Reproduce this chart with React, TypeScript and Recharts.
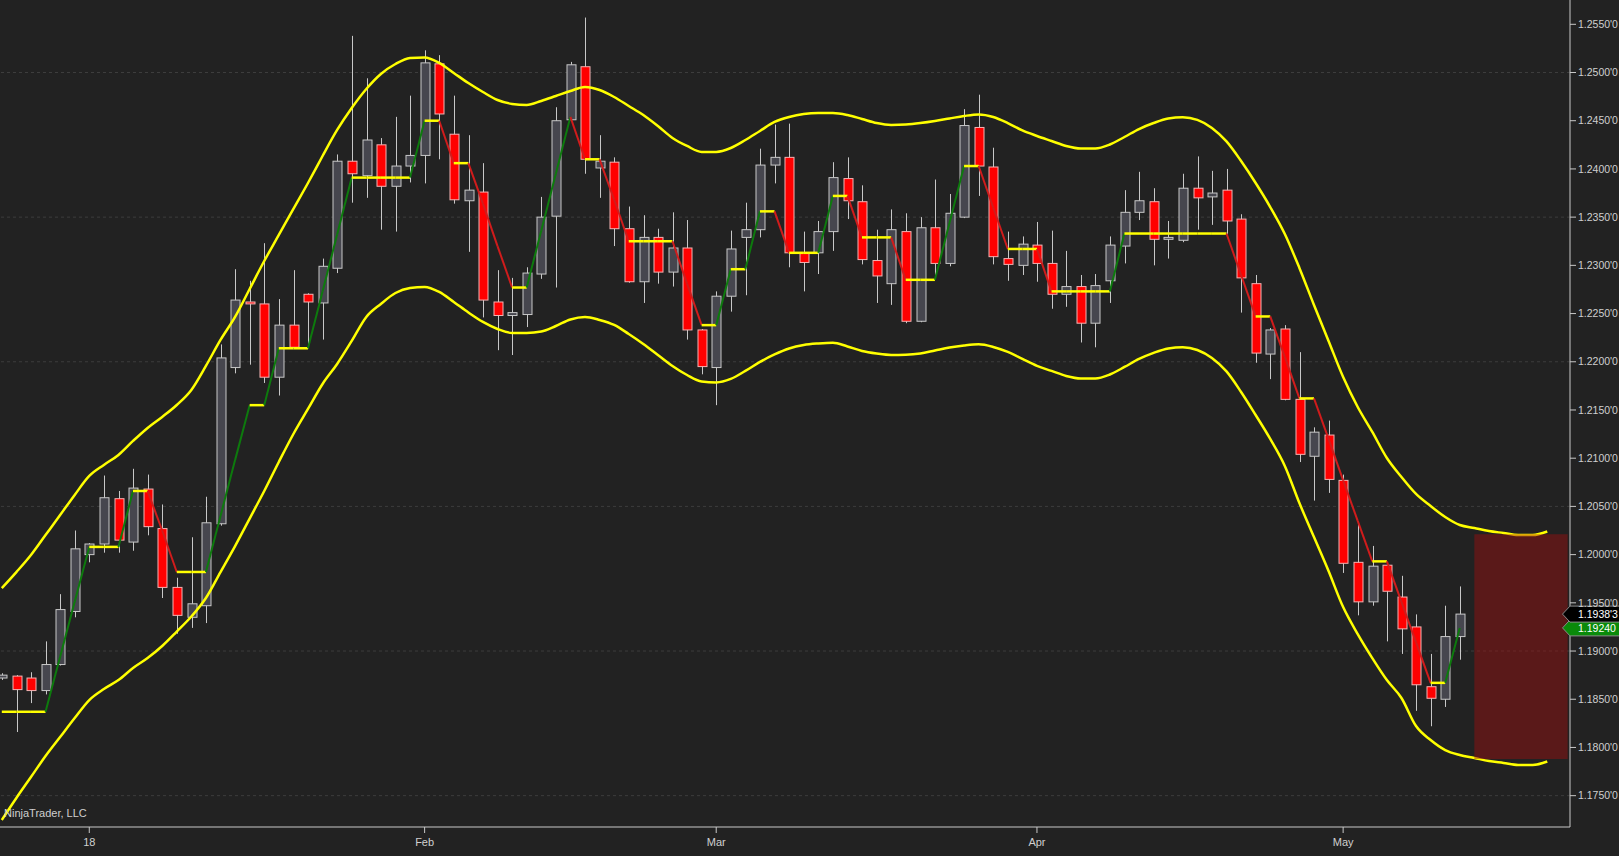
import React from 'react';
import { ComposedChart, Line, Bar, XAxis, YAxis, ReferenceLine, ReferenceArea, ReferenceDot } from 'recharts';

const opens = [1.1872,1.1874,1.1872,1.1859,1.1886,1.1941,1.2000,1.2011,1.2058,1.2013,1.2068,1.2027,1.1966,1.1935,1.1947,1.2032,1.2194,1.2262,1.2260,1.2184,1.2238,1.2270,1.2261,1.2297,1.2408,1.2393,1.2425,1.2382,1.2403,1.2414,1.2509,1.2436,1.2367,1.2376,1.2262,1.2248,1.2249,1.2291,1.2351,1.2451,1.2506,1.2401,1.2407,1.2338,1.2283,1.2329,1.2293,1.2318,1.2233,1.2194,1.2268,1.2329,1.2337,1.2404,1.2412,1.2313,1.2313,1.2335,1.2390,1.2366,1.2305,1.2281,1.2335,1.2242,1.2339,1.2302,1.2350,1.2443,1.2402,1.2307,1.2300,1.2321,1.2302,1.2270,1.2278,1.2240,1.2284,1.2320,1.2355,1.2366,1.2327,1.2326,1.2380,1.2371,1.2378,1.2348,1.2281,1.2208,1.2234,1.2161,1.2102,1.2124,1.2077,1.1992,1.1951,1.1989,1.1956,1.1925,1.1863,1.1850,1.1915];
const highs = [1.1877,1.1875,1.1878,1.1910,1.1959,1.2025,1.2012,1.2082,1.2066,1.2089,1.2083,1.2052,1.1976,1.2018,1.2060,1.2218,1.2296,1.2284,1.2323,1.2265,1.2295,1.2271,1.2307,1.2415,1.2538,1.2494,1.2432,1.2454,1.2476,1.2523,1.2518,1.2476,1.2435,1.2406,1.2295,1.2287,1.2298,1.2371,1.2464,1.2511,1.2557,1.2435,1.2412,1.2361,1.2352,1.2338,1.2355,1.2347,1.2234,1.2273,1.2336,1.2365,1.2421,1.2446,1.2447,1.2335,1.2346,1.2407,1.2412,1.2383,1.2337,1.2358,1.2354,1.2350,1.2389,1.2374,1.2462,1.2477,1.2422,1.2335,1.2330,1.2345,1.2336,1.2315,1.2290,1.2291,1.2330,1.2378,1.2397,1.2380,1.2346,1.2395,1.2413,1.2398,1.2400,1.2353,1.2290,1.2235,1.2238,1.2210,1.2132,1.2139,1.2083,1.2032,1.2009,1.1992,1.1978,1.1938,1.1897,1.1947,1.1967];
const lows = [1.1870,1.1816,1.1846,1.1855,1.1885,1.1935,1.1992,1.2002,1.2002,1.2004,1.2020,1.1955,1.1918,1.1924,1.1929,1.2030,1.2188,1.2197,1.2178,1.2165,1.2214,1.2214,1.2223,1.2292,1.2365,1.2370,1.2337,1.2335,1.2386,1.2385,1.2410,1.2364,1.2314,1.2246,1.2212,1.2207,1.2236,1.2286,1.2277,1.2450,1.2395,1.2370,1.2320,1.2282,1.2261,1.2281,1.2278,1.2223,1.2187,1.2155,1.2252,1.2269,1.2329,1.2385,1.2298,1.2273,1.2291,1.2315,1.2348,1.2301,1.2261,1.2259,1.2240,1.2241,1.2286,1.2299,1.2349,1.2372,1.2301,1.2284,1.2290,1.2283,1.2255,1.2257,1.2220,1.2215,1.2261,1.2302,1.2347,1.2300,1.2307,1.2324,1.2337,1.2342,1.2332,1.2251,1.2199,1.2182,1.2160,1.2096,1.2056,1.2064,1.1981,1.1937,1.1947,1.1910,1.1897,1.1838,1.1822,1.1842,1.1891];
const closes = [1.1875,1.1860,1.1859,1.1886,1.1943,1.2006,1.2011,1.2059,1.2015,1.2069,1.2029,1.1966,1.1937,1.1949,1.2033,1.2204,1.2264,1.2260,1.2184,1.2238,1.2215,1.2262,1.2299,1.2408,1.2395,1.2430,1.2382,1.2403,1.2414,1.2510,1.2457,1.2368,1.2378,1.2264,1.2248,1.2251,1.2292,1.2350,1.2450,1.2508,1.2410,1.2408,1.2338,1.2283,1.2329,1.2293,1.2318,1.2233,1.2195,1.2268,1.2317,1.2337,1.2404,1.2412,1.2313,1.2303,1.2335,1.2391,1.2367,1.2306,1.2289,1.2337,1.2242,1.2339,1.2302,1.2354,1.2445,1.2403,1.2309,1.2301,1.2322,1.2302,1.2270,1.2278,1.2240,1.2279,1.2321,1.2355,1.2367,1.2327,1.2329,1.2380,1.2370,1.2375,1.2346,1.2287,1.2209,1.2233,1.2161,1.2104,1.2127,1.2078,1.1991,1.1951,1.1988,1.1962,1.1923,1.1865,1.1851,1.1915,1.19383];
const stepValues = [1.1837,1.1837,1.1837,1.1837,1.1894,1.1951,1.2008,1.2008,1.2008,1.2066,1.2066,1.2025,1.1982,1.1982,1.1982,1.2040,1.2098,1.2155,1.2155,1.2214,1.2214,1.2214,1.2273,1.2332,1.2391,1.2391,1.2391,1.2391,1.2391,1.2450,1.2450,1.2406,1.2406,1.2364,1.2320,1.2277,1.2277,1.2336,1.2395,1.2454,1.2410,1.2410,1.2368,1.2325,1.2325,1.2325,1.2325,1.2281,1.2238,1.2238,1.2296,1.2296,1.2356,1.2356,1.2313,1.2313,1.2313,1.2372,1.2372,1.2329,1.2329,1.2329,1.2285,1.2285,1.2285,1.2344,1.2403,1.2403,1.2360,1.2317,1.2317,1.2317,1.2273,1.2273,1.2273,1.2273,1.2273,1.2333,1.2333,1.2333,1.2333,1.2333,1.2333,1.2333,1.2333,1.2290,1.2247,1.2247,1.2205,1.2162,1.2162,1.2120,1.2077,1.2035,1.1993,1.1993,1.1951,1.1909,1.1867,1.1867,1.1924];
const upperBand = [1.19653,1.19819,1.19996,1.20203,1.20410,1.20619,1.20816,1.20930,1.21034,1.21179,1.21314,1.21428,1.21552,1.21708,1.21957,1.22226,1.22465,1.22755,1.23045,1.23315,1.23585,1.23854,1.24134,1.24404,1.24632,1.24829,1.24985,1.25088,1.25150,1.25156,1.25099,1.24995,1.24891,1.24798,1.24715,1.24674,1.24663,1.24705,1.24756,1.24808,1.24850,1.24819,1.24746,1.24653,1.24559,1.24445,1.24321,1.24238,1.24176,1.24176,1.24217,1.24300,1.24394,1.24487,1.24539,1.24570,1.24580,1.24580,1.24559,1.24518,1.24476,1.24456,1.24461,1.24476,1.24497,1.24523,1.24549,1.24565,1.24539,1.24476,1.24399,1.24342,1.24290,1.24238,1.24212,1.24212,1.24253,1.24331,1.24414,1.24476,1.24523,1.24536,1.24508,1.24425,1.24285,1.24082,1.23854,1.23605,1.23325,1.22973,1.22589,1.22216,1.21842,1.21531,1.21272,1.21002,1.20805,1.20629,1.20504,1.20390,1.20307,1.20276,1.20245,1.20224,1.20203,1.20203,1.20240];
const lowerBand = [1.17248,1.17476,1.17693,1.17911,1.18108,1.18305,1.18492,1.18606,1.18699,1.18824,1.18927,1.19052,1.19202,1.19358,1.19550,1.19819,1.20089,1.20374,1.20660,1.20961,1.21251,1.21511,1.21770,1.21977,1.22216,1.22465,1.22600,1.22713,1.22765,1.22776,1.22724,1.22620,1.22511,1.22413,1.22340,1.22299,1.22299,1.22314,1.22371,1.22439,1.22465,1.22434,1.22382,1.22288,1.22185,1.22071,1.21957,1.21863,1.21796,1.21786,1.21822,1.21905,1.21998,1.22076,1.22138,1.22174,1.22190,1.22198,1.22159,1.22112,1.22086,1.22071,1.22073,1.22086,1.22117,1.22148,1.22169,1.22181,1.22154,1.22102,1.22029,1.21957,1.21905,1.21853,1.21827,1.21827,1.21868,1.21946,1.22029,1.22092,1.22138,1.22151,1.22122,1.22039,1.21900,1.21687,1.21448,1.21200,1.20920,1.20535,1.20182,1.19830,1.19456,1.19176,1.18927,1.18699,1.18513,1.18222,1.18077,1.17973,1.17922,1.17891,1.17859,1.17839,1.17818,1.17818,1.17854];

const monthTicks = [6, 29, 49, 71, 92];
const monthLabels = ['18', 'Feb', 'Mar', 'Apr', 'May'];
const priceTicks = [1.175,1.18,1.185,1.19,1.195,1.2,1.205,1.21,1.215,1.22,1.225,1.23,1.235,1.24,1.245,1.25,1.255];
const gridPrices = [1.175, 1.19, 1.205, 1.22, 1.235, 1.25];
const xDomain = [-0.1235, 107.56];
const yDomain = [1.17175, 1.25752];
const boxStart = 101;
const boxEnd = 107.4;
const boxHigh = 1.2021;
const boxLow = 1.1788;

const FONT = '"Liberation Sans", Arial, sans-serif';
const BG = '#222222';

const data = upperBand.map((u, i) => {
  const row: any = { i, upper: u, lower: lowerBand[i] };
  if (i < opens.length) {
    row.o = opens[i];
    row.h = highs[i];
    row.l = lows[i];
    row.c = closes[i];
    row.range = [lows[i], highs[i]];
  }
  return row;
});

const fmtPrice = (v: number) => {
  const s = v.toFixed(5);
  return s.slice(0, 6) + "'" + s.slice(6);
};

const Candle = (props: any) => {
  const { x, y, width, height, payload } = props;
  if (!payload || payload.o == null || height == null) return null;
  const { o, h, l, c } = payload;
  const span = h - l || 1e-9;
  const cx = Math.round(x + width / 2) + 0.5;
  const toY = (v: number) => y + ((h - v) / span) * height;
  const up = c >= o;
  const top = toY(Math.max(o, c));
  const bot = toY(Math.min(o, c));
  const bodyH = Math.max(bot - top, 1.5);
  return (
    <g>
      <line x1={cx} x2={cx} y1={y} y2={y + height} stroke="#c8c8c8" strokeWidth={1} />
      <rect
        x={cx - 4.5}
        y={top}
        width={9}
        height={bodyH}
        fill={up ? '#46464e' : '#ff0000'}
        stroke={up ? '#c8c8c8' : '#f3b4b4'}
        strokeWidth={1}
      />
    </g>
  );
};

const makeTag = (fill: string, text: string) => (p: any) => {
  const { cx, cy } = p;
  if (cx == null || cy == null) return null;
  return (
    <g>
      <polygon
        points={`${cx - 7.5},${cy} ${cx},${cy - 8} ${cx + 50},${cy - 8} ${cx + 50},${cy + 8} ${cx},${cy + 8}`}
        fill={fill}
        stroke="#8a8a8a"
        strokeWidth={1}
      />
      <text x={cx + 8} y={cy + 4} fill="#ffffff" fontSize={10.5} fontFamily={FONT}>
        {text}
      </text>
    </g>
  );
};

const segColor = (a: number, b: number) => (b > a ? '#0d7a0d' : b < a ? '#d01c1c' : '#ffff00');

export default function App() {
  const last = opens.length - 1;
  return (
    <div style={{ position: 'absolute', left: 0, top: 0, width: 1619, height: 856, background: BG, overflow: 'hidden' }}>
      <ComposedChart width={1619} height={856} data={data} margin={{ top: 0, right: 0, bottom: 0, left: 0 }}>
        <XAxis
          dataKey="i"
          type="number"
          domain={xDomain}
          allowDataOverflow
          ticks={monthTicks}
          interval={0}
          tickFormatter={(v: number) => monthLabels[monthTicks.indexOf(v)] ?? ''}
          height={29}
          tickSize={6}
          tickMargin={5}
          axisLine={{ stroke: '#c8c8c8' }}
          tickLine={{ stroke: '#c8c8c8' }}
          tick={{ fill: '#d0d0d0', fontSize: 11, fontFamily: FONT }}
        />
        <YAxis
          yAxisId={0}
          orientation="right"
          type="number"
          domain={yDomain}
          allowDataOverflow
          ticks={priceTicks}
          interval={0}
          tickFormatter={fmtPrice}
          width={49}
          tickSize={6}
          tickMargin={2}
          axisLine={{ stroke: '#c8c8c8' }}
          tickLine={{ stroke: '#c8c8c8' }}
          tick={{ fill: '#d0d0d0', fontSize: 10.5, fontFamily: FONT, textAnchor: 'start' }}
        />
        {gridPrices.map((g) => (
          <ReferenceLine key={'g' + g} y={g} stroke="#3d3d3d" strokeDasharray="3 3" zIndex={-100} />
        ))}
        <Bar dataKey="range" barSize={9} shape={Candle} isAnimationActive={false} zIndex={300} />
        <Line type="monotone" dataKey="upper" stroke="#ffff00" strokeWidth={2.5} dot={false} activeDot={false} isAnimationActive={false} zIndex={400} />
        <Line type="monotone" dataKey="lower" stroke="#ffff00" strokeWidth={2.5} dot={false} activeDot={false} isAnimationActive={false} zIndex={400} />
        {stepValues.slice(0, -1).map((v, i) => (
          <ReferenceLine
            key={'s' + i}
            segment={[{ x: i, y: v }, { x: i + 1, y: stepValues[i + 1] }]}
            stroke={segColor(v, stepValues[i + 1])}
            strokeWidth={v === stepValues[i + 1] ? 2.5 : 2}
            zIndex={450}
          />
        ))}
        <ReferenceArea
          x1={boxStart}
          x2={boxEnd}
          y1={boxLow}
          y2={boxHigh}
          fill="#a01010"
          fillOpacity={0.45}
          stroke="none"
          zIndex={600}
        />
        <ReferenceDot
          x={xDomain[1]}
          y={stepValues[last]}
          r={0}
          ifOverflow="visible"
          shape={makeTag('#0a8a0a', stepValues[last].toFixed(5))}
          zIndex={700}
        />
        <ReferenceDot
          x={xDomain[1]}
          y={closes[last]}
          r={0}
          ifOverflow="visible"
          shape={makeTag('#000000', fmtPrice(closes[last]))}
          zIndex={710}
        />
      </ComposedChart>
      <div
        style={{
          position: 'absolute',
          left: 4,
          top: 807,
          color: '#cfcfcf',
          fontSize: 11,
          fontFamily: FONT,
          pointerEvents: 'none',
        }}
      >
        NinjaTrader, LLC
      </div>
    </div>
  );
}
